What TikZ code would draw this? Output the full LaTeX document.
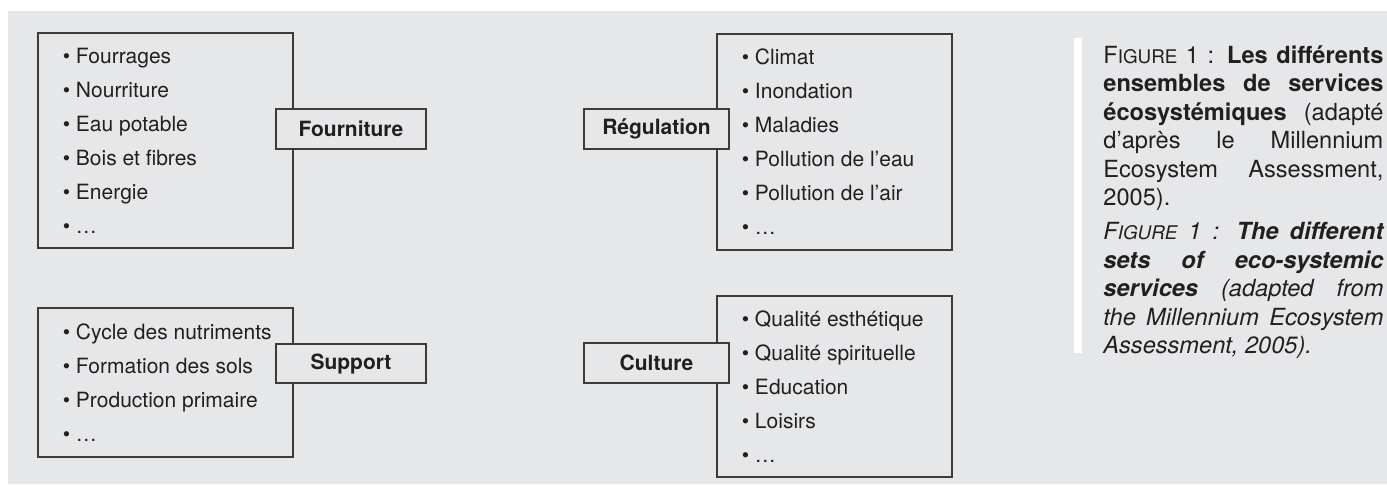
\documentclass[tikz,border=0pt]{standalone}
\usepackage{fontspec}
\setmainfont{TeX Gyre Heros}
\usetikzlibrary{positioning}
\definecolor{panelgray}{HTML}{E6E7E9}
\definecolor{framegray}{HTML}{3C3C3C}
\definecolor{inkblack}{HTML}{231F20}
\newcommand{\fakesc}[2]{#1{\fontsize{9.4}{14.25}\selectfont #2}}

\begin{document}
\begin{tikzpicture}[x=0.5pt, y=-0.5pt,
    every node/.style={text=inkblack},
    listbox/.style={draw=framegray, line width=0.6pt, fill=panelgray, rectangle, inner sep=0pt},
    items/.style={align=left, inner sep=0pt, font=\fontsize{10.5}{17}\selectfont},
    service/.style={draw=framegray, line width=0.6pt, fill=panelgray, rectangle, inner sep=0pt,
                    minimum height=20pt, font=\fontsize{10.5}{12}\selectfont\bfseries},
    note/.style={anchor=north west, align=justify, text width=140pt, inner sep=0pt,
                 font=\fontsize{11.8}{14.25}\selectfont}
    ]
  \useasboundingbox[fill=white] (0,0) rectangle (1387,484);
  \fill[panelgray] (8,11) rectangle (1387,484);

  % Fourniture
  \node[listbox, minimum width=127.5pt, minimum height=107.5pt] (fourniture-list) at (165.5,140.5) {};
  \node[items, right=12.5pt of fourniture-list.west] (fourniture-items)
    {\textbullet{} Fourrages\\ \textbullet{} Nourriture\\ \textbullet{} Eau potable\\
     \textbullet{} Bois et fibres\\ \textbullet{} Energie\\ \textbullet{} …};
  \node[service, minimum width=75pt] (fourniture) at (351,129) {Fourniture};

  % Regulation
  \node[listbox, minimum width=117.5pt, minimum height=108pt] (regulation-list) at (834.5,142) {};
  \node[items, right=12.5pt of regulation-list.west] (regulation-items)
    {\textbullet{} Climat\\ \textbullet{} Inondation\\ \textbullet{} Maladies\\
     \textbullet{} Pollution de l’eau\\ \textbullet{} Pollution de l’air\\ \textbullet{} …};
  \node[service, minimum width=72.5pt] (regulation) at (656.5,129) {Régulation};

  % Support
  \node[listbox, minimum width=127.5pt, minimum height=74.5pt] (support-list) at (165.5,382.5) {};
  \node[items, right=12.5pt of support-list.west] (support-items)
    {\textbullet{} Cycle des nutriments\\ \textbullet{} Formation des sols\\
     \textbullet{} Production primaire\\ \textbullet{} …};
  \node[service, minimum width=75pt, minimum height=19.5pt] (support) at (351,363.5) {Support};

  % Culture
  \node[listbox, minimum width=117.5pt, minimum height=90.5pt] (culture-list) at (834.5,386.5) {};
  \node[items, right=12.5pt of culture-list.west] (culture-items)
    {\textbullet{} Qualité esthétique\\ \textbullet{} Qualité spirituelle\\
     \textbullet{} Education\\ \textbullet{} Loisirs\\ \textbullet{} …};
  \node[service, minimum width=72.5pt] (culture) at (656.5,363) {Culture};

  % caption
  \fill[white] (1074,38) rectangle (1082,353);
  \node[note] (caption) at (1103,45)
    {\hyphenpenalty=10000 \exhyphenpenalty=10000
     \fakesc{F}{IGURE} 1 : \textbf{Les différents\linebreak ensembles de services\linebreak
     écosystémiques} (adapté\linebreak d’après le Millennium\linebreak
     Ecosystem Assessment,\linebreak 2005).\par\vspace{2.8pt}
     \textit{\fakesc{F}{IGURE} 1 : \textbf{The different\linebreak sets of eco-systemic\linebreak
     services} (adapted from\linebreak the Millennium Ecosystem\linebreak Assessment, 2005).}};
\end{tikzpicture}
\end{document}
